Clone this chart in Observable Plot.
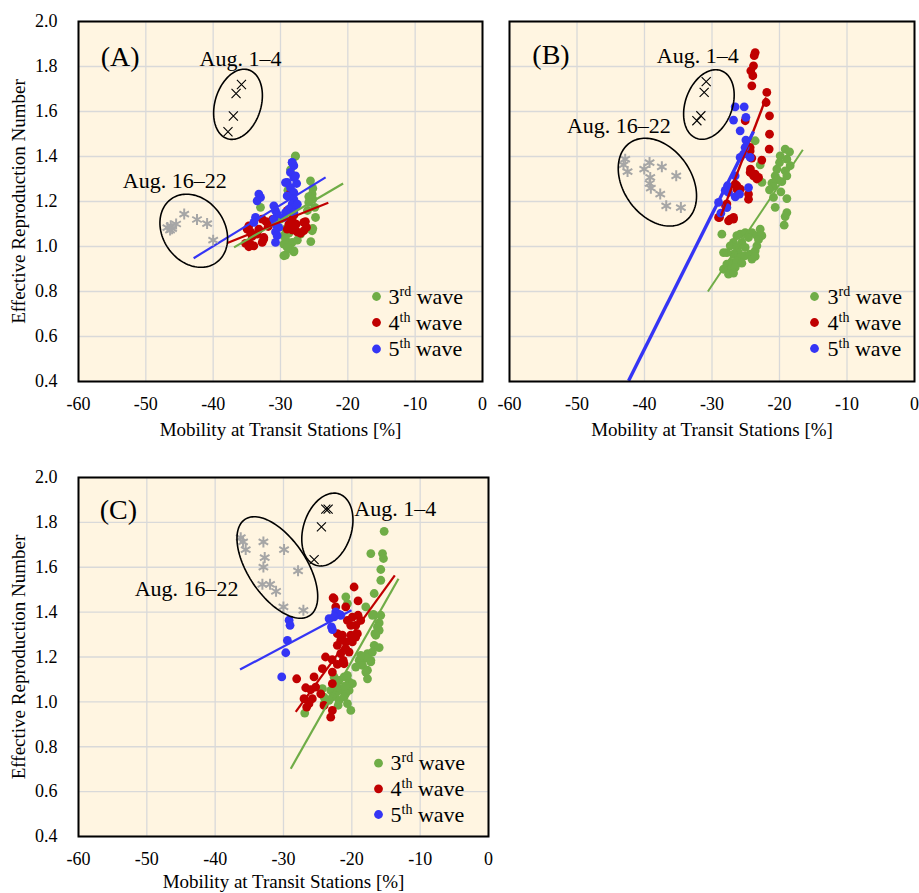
<!DOCTYPE html>
<html><head><meta charset="utf-8">
<script src="https://cdn.jsdelivr.net/npm/d3@7"></script>
<script src="https://cdn.jsdelivr.net/npm/@observablehq/plot@0.6"></script>
<style>
body{margin:0;background:#fff;width:919px;height:893px;position:relative;overflow:hidden}
.panel{position:absolute}
</style></head><body>
<div id="pA" class="panel" style="left:0;top:0;width:490px"></div>
<div id="pB" class="panel" style="left:490px;top:0;width:429px"></div>
<div id="pC" class="panel" style="left:0;top:460px;width:500px"></div>
<script>
// ---------- labels / ticks ----------
const xTicks = [-60, -50, -40, -30, -20, -10, 0];
const yTicks = [0.4, 0.6, 0.8, 1.0, 1.2, 1.4, 1.6, 1.8, 2.0];
const waveNames = ["3rd wave", "4th wave", "5th wave"];
const augLabels = ["Aug. 1–4", "Aug. 16–22"];
const panelNames = ["(A)", "(B)", "(C)"];
const xTitle = "Mobility at Transit Stations [%]";
const yTitle = "Effective Reproduction Number";

// ---------- Panel A ----------
const A_wave3 = [[-27.77,1.403],[-28.52,1.341],[-25.55,1.292],[-25.2,1.258],[-25.3,1.233],[-25.8,1.222],[-25.2,1.211],[-25.8,1.196],[-24.9,1.174],[-24.8,1.129],[-25.3,1.07],[-25.2,1.08],[-25.5,1.022],[-27.03,1.055],[-28.27,1.018],[-28.02,0.976],[-29.26,0.962],[-29.5,0.959],[-28.0,0.981],[-28.52,0.988],[-29.51,1.01],[-29.51,1.048],[-28.76,1.059],[-28.75,1.063],[-29.26,1.077],[-29.25,1.033],[-29.0,0.996],[-27.5,1.028],[-32.97,1.174],[-30.0,1.122],[-27.8,1.40],[-26.0,1.16],[-28.9,1.25]];
const A_wave4 = [[-34.7,1.092],[-34.46,1.065],[-34.21,1.045],[-34.95,1.077],[-32.72,1.122],[-32.13,1.11],[-31.83,1.089],[-33.22,1.077],[-33.47,1.055],[-32.48,1.04],[-32.72,1.018],[-33.96,1.003],[-34.46,1.01],[-34.7,0.999],[-35.2,1.014],[-32.48,1.033],[-28.27,1.122],[-27.67,1.099],[-28.27,1.074],[-27.53,1.065],[-26.54,1.107],[-26.14,1.085],[-27.03,1.059],[-28.76,1.099],[-29.01,1.077],[-28.52,1.24],[-29.01,1.159],[-26.3,1.111],[-26.54,1.07],[-31.2,1.12],[-28.0,1.14]];
const A_wave5 = [[-28.27,1.374],[-28.02,1.359],[-28.52,1.329],[-28.02,1.307],[-29.01,1.285],[-28.52,1.262],[-28.02,1.24],[-29.01,1.225],[-28.02,1.21],[-28.27,1.188],[-27.77,1.181],[-28.76,1.166],[-29.26,1.151],[-28.02,1.151],[-33.22,1.233],[-32.97,1.218],[-33.47,1.203],[-33.71,1.129],[-33.96,1.107],[-30.99,1.181],[-30.74,1.159],[-30.5,1.144],[-30.99,1.122],[-30.74,1.099],[-30.25,1.085],[-30.74,1.065],[-30.5,1.048],[-30.74,1.018],[-29.51,1.129],[-29.26,1.284],[-28.26,1.373],[-27.77,1.314],[-27.5,1.188],[-27.6,1.28]];
const A_aug1_4 = [[-37.8,1.51],[-37.0,1.58],[-36.6,1.68],[-35.8,1.72]];
const A_aug16_22 = [[-46.8,1.084],[-46.4,1.073],[-46.1,1.079],[-46.3,1.092],[-45.5,1.10],[-44.3,1.144],[-42.4,1.12],[-40.9,1.102],[-40.0,1.028]];
const A_fit3 = [-36.9, 0.996, -20.7, 1.28];
const A_fit4 = [-37.9, 1.016, -22.9, 1.194];
const A_fit5 = [-42.9, 0.948, -23.3, 1.307];
const A_groupCenters = [[-36.31, 1.632], [-42.88, 1.070]];
const A_labelAnchors = [[-35.94, 1.834], [-45.70, 1.292]];

// ---------- Panel B ----------
const B_wave3 = [[-28.54,1.055],[-26.32,1.048],[-25.82,1.055],[-25.08,1.062],[-24.09,1.062],[-24.59,1.04],[-23.35,1.048],[-22.86,1.077],[-22.61,1.048],[-26.81,1.018],[-27.3,1.003],[-26.32,0.996],[-25.58,1.018],[-25.08,0.996],[-26.07,0.973],[-26.81,0.966],[-27.8,0.973],[-28.29,0.973],[-25.82,0.951],[-25.08,0.959],[-24.34,0.966],[-23.6,0.981],[-23.35,1.003],[-23.11,1.03],[-27.8,0.922],[-27.06,0.929],[-26.32,0.936],[-25.58,0.926],[-27.3,0.899],[-26.56,0.907],[-28.29,0.899],[-27.55,0.877],[-26.81,0.882],[-24.09,0.944],[-23.6,0.956],
  [-19.16,1.433],[-18.51,1.421],[-19.9,1.403],[-18.91,1.388],[-20.0,1.373],[-18.42,1.359],[-20.39,1.344],[-19.16,1.336],[-18.91,1.314],[-20.64,1.314],[-20.29,1.296],[-21.13,1.282],[-20.89,1.267],[-21.48,1.252],[-19.65,1.288],[-19.8,1.243],[-20.89,1.218],[-18.91,1.213],[-20.64,1.174],[-18.91,1.151],[-19.16,1.133],[-19.31,1.095],
  [-23.6,1.47],[-22.86,1.363],[-22.6,1.285]];
const B_wave4 = [[-23.6,1.862],[-23.75,1.848],[-23.85,1.803],[-24.25,1.781],[-23.95,1.759],[-24.1,1.714],[-21.88,1.685],[-21.98,1.64],[-21.48,1.581],[-21.48,1.499],[-21.53,1.433],[-22.62,1.384],[-24.35,1.425],[-24.35,1.329],[-23.85,1.314],[-23.36,1.3],[-24.59,1.233],[-24.59,1.21],[-26.57,1.277],[-26.32,1.255],[-27.8,1.189],[-28.89,1.129],[-27.55,1.114],[-26.82,1.122],[-25.08,1.559],[-24.35,1.44],[-24.1,1.393],[-24.3,1.344],[-23.6,1.322],[-23.1,1.307],[-26.3,1.27],[-25.8,1.255],[-28.0,1.181],[-27.3,1.122],[-26.81,1.129],[-29.03,1.129]];
const B_wave5 = [[-26.57,1.621],[-25.23,1.621],[-26.81,1.562],[-24.98,1.574],[-25.83,1.514],[-24.98,1.473],[-24.34,1.396],[-25.83,1.396],[-25.33,1.411],[-26.57,1.314],[-27.7,1.27],[-28.04,1.25],[-26.56,1.221],[-25.92,1.233],[-24.59,1.262],[-29.03,1.196],[-27.8,1.173],[-28.69,1.148],[-27.55,1.24],[-25.1,1.44]];
const B_aug1_4 = [[-30.86,1.733],[-31.16,1.685],[-31.65,1.581],[-32.24,1.559]];
const B_aug16_22 = [[-42.86,1.388],[-43.11,1.363],[-42.51,1.333],[-40.04,1.344],[-39.25,1.373],[-37.43,1.354],[-39.15,1.307],[-39.25,1.28],[-39.06,1.259],[-37.67,1.233],[-36.78,1.181],[-35.3,1.314],[-34.61,1.173]];
const B_fit3 = [-30.61, 0.80, -16.54, 1.43];
const B_fit4 = [-28.69, 1.136, -21.97, 1.662];
const B_fit5 = [-42.36, 0.403, -23.85, 1.511];
const B_groupCenters = [[-30.46, 1.631], [-38.09, 1.286]];
const B_labelAnchors = [[-32.12, 1.848], [-43.79, 1.536]];

// ---------- Panel C ----------
const C_wave3 = [[-15.27,1.76],[-17.22,1.661],[-15.51,1.661],[-15.37,1.639],[-15.76,1.59],[-15.76,1.542],[-16.73,1.483],[-16.83,1.39],[-16.0,1.352],[-16.0,1.319],[-16.63,1.304],[-17.96,1.423],[-20.88,1.468],[-20.64,1.438],[-16.73,1.252],[-16.0,1.242],[-17.71,1.215],[-18.2,1.193],[-17.22,1.185],[-18.93,1.185],[-18.44,1.163],[-17.71,1.141],[-17.71,1.103],[-24.3,1.059],[-24.05,0.992],[-26.89,0.95],[-20.15,0.962],[-22.6,1.111],[-21.86,1.096],[-21.13,1.111],[-20.4,1.089],[-19.91,1.081],[-23.08,1.051],[-22.35,1.037],[-21.62,1.051],[-20.89,1.037],[-20.4,1.051],[-22.84,1.022],[-21.86,1.007],[-21.13,1.022],[-20.64,0.992],[-23.33,1.007],[-22.1,1.066],[-20.64,1.118],[-17.72,1.197],[-17.23,1.178],[-16.99,1.222],[-18.7,1.207],[-17.96,1.133],[-16.26,1.334],[-16.5,1.297],[-15.77,1.386],[-16.99,1.386],[-19.43,1.155],[-24.07,1.021],[-22.0,0.985],[-21.0,1.07]];
const C_wave4 = [[-19.67,1.512],[-22.6,1.46],[-19.09,1.45],[-22.36,1.423],[-20.89,1.423],[-19.92,1.378],[-19.09,1.386],[-20.65,1.363],[-18.7,1.363],[-20.16,1.341],[-19.43,1.341],[-22.12,1.304],[-21.38,1.297],[-20.16,1.297],[-19.43,1.289],[-21.63,1.274],[-20.89,1.267],[-19.92,1.267],[-19.19,1.304],[-22.12,1.252],[-20.89,1.237],[-20.4,1.222],[-21.63,1.215],[-23.85,1.2],[-22.87,1.188],[-21.26,1.185],[-21.14,1.17],[-22.12,1.167],[-22.85,1.133],[-24.31,1.148],[-25.53,1.111],[-28.07,1.103],[-26.75,1.063],[-26.02,1.054],[-25.29,1.066],[-27.0,1.014],[-25.78,1.014],[-26.27,0.992],[-26.61,0.977],[-24.07,0.984],[-22.85,1.081],[-22.85,0.962],[-23.09,0.932],[-24.55,1.036],[-22.74,1.464]];
const C_wave5 = [[-29.18,1.364],[-29.04,1.341],[-29.43,1.274],[-29.67,1.219],[-30.26,1.111],[-23.33,1.371],[-22.35,1.401],[-21.86,1.39],[-22.84,1.322],[-22.98,1.334],[-21.62,1.386],[-22.6,1.379]];
const C_aug1_4 = [[-23.81,1.859],[-23.47,1.859],[-24.45,1.78],[-25.52,1.634]];
const C_aug16_22 = [[-36.26,1.732],[-35.92,1.713],[-35.53,1.679],[-32.94,1.713],[-32.75,1.643],[-32.94,1.601],[-29.92,1.679],[-27.87,1.584],[-33.09,1.524],[-31.97,1.524],[-31.09,1.493],[-30.01,1.423],[-27.09,1.408]];
const C_fit3 = [-28.94, 0.702, -13.17, 1.549];
const C_fit4 = [-28.21, 0.955, -13.71, 1.564];
const C_fit5 = [-36.36, 1.144, -20.05, 1.408];
const C_groupCenters = [[-23.58, 1.768], [-30.90, 1.599]];
const C_labelAnchors = [[-13.65, 1.862], [-44.18, 1.505]];

// ---------- styling ----------
const COL3 = "#70AD47", COL4 = "#C00000", COL5 = "#3535F5";
const BG = "#FFF5E1", GRID = "#D9D9D9";
const FONT = '"Liberation Serif", "Times New Roman", serif';

function ellipsePts(c, a, b, rotDeg, kx, ky) {
  const out = [], phi = rotDeg * Math.PI / 180;
  for (let i = 0; i <= 120; i++) {
    const t = i / 120 * 2 * Math.PI;
    const u = b * Math.cos(t), v = a * Math.sin(t);
    const X = u * Math.cos(phi) - v * Math.sin(phi);
    const Y = u * Math.sin(phi) + v * Math.cos(phi);
    out.push([c[0] + X / kx, c[1] - Y / ky]);
  }
  return out;
}

function fixSup(svg) {
  const NS = "http://www.w3.org/2000/svg";
  svg.querySelectorAll("text").forEach(t => {
    const m = t.textContent.match(/^(\d)(rd|th) (wave)$/);
    if (!m) return;
    t.textContent = "";
    const a = document.createElementNS(NS, "tspan"); a.textContent = m[1];
    const b = document.createElementNS(NS, "tspan"); b.textContent = m[2];
    b.setAttribute("font-size", "14"); b.setAttribute("dy", "-8");
    const c = document.createElementNS(NS, "tspan"); c.textContent = "\u00a0" + m[3];
    c.setAttribute("dy", "8");
    t.append(a, b, c);
  });
}

function panel(cfg) {
  const {el, w3, w4, w5, aug1, aug16, fits, centers, labels, name, width, height, ml, mr, mt, mb, showY,
         ellipses, letterOff, legendDot, legendText, legendDy, fitWidths, titleDy} = cfg;
  const kx = (width - ml - mr) / 60, ky = (height - mt - mb) / 1.6;
  const marks = [
    Plot.frame({fill: BG}),
    Plot.gridX(xTicks, {stroke: GRID, strokeOpacity: 1, strokeWidth: 1.3}),
    Plot.gridY(yTicks, {stroke: GRID, strokeOpacity: 1, strokeWidth: 1.3}),
    Plot.axisX(xTicks, {tickSize: 0, tickPadding: 16, tickFormat: d => String(d), fontSize: 18, label: null}),
    showY ? Plot.axisY(yTicks, {tickSize: 0, tickPadding: 21, tickFormat: d => d.toFixed(1), fontSize: 18, label: null}) : null,
    Plot.dot(w3, {x: d => d[0], y: d => d[1], r: 4.4, fill: COL3}),
    Plot.dot(w4, {x: d => d[0], y: d => d[1], r: 4.4, fill: COL4}),
    Plot.dot(w5, {x: d => d[0], y: d => d[1], r: 4.4, fill: COL5}),
    Plot.link([fits[0]], {x1: d => d[0], y1: d => d[1], x2: d => d[2], y2: d => d[3], stroke: COL3, strokeWidth: fitWidths[0], clip: true}),
    Plot.link([fits[1]], {x1: d => d[0], y1: d => d[1], x2: d => d[2], y2: d => d[3], stroke: COL4, strokeWidth: fitWidths[1], clip: true}),
    Plot.link([fits[2]], {x1: d => d[0], y1: d => d[1], x2: d => d[2], y2: d => d[3], stroke: COL5, strokeWidth: fitWidths[2], clip: true}),
    Plot.dot(aug1, {x: d => d[0], y: d => d[1], symbol: "times", r: 4.2, stroke: "#000", strokeWidth: 1.1}),
    Plot.dot(aug16, {x: d => d[0], y: d => d[1], symbol: "asterisk", r: 5.2, stroke: "#A6A6A6", strokeWidth: 2}),
    ...ellipses.map((e, i) => Plot.line(ellipsePts(centers[i], e[0], e[1], e[2], kx, ky),
        {x: d => d[0], y: d => d[1], stroke: "#000", strokeWidth: 1.6})),
    Plot.text(augLabels.map((s, i) => ({s, p: labels[i]})), {x: d => d.p[0], y: d => d.p[1], text: d => d.s,
        fontSize: 22, fill: "#000", textAnchor: "middle", lineAnchor: "middle"}),
    Plot.text([name], {frameAnchor: "top-left", dx: letterOff[0], dy: letterOff[1], fontSize: 28, fill: "#000",
        textAnchor: "middle", lineAnchor: "middle"}),
    ...waveNames.map((w, i) => Plot.dot([w], {frameAnchor: "bottom-right", dx: legendDot, dy: legendDy[i], r: 4.4, fill: [COL3, COL4, COL5][i]})),
    ...waveNames.map((w, i) => Plot.text([w], {frameAnchor: "bottom-right", dx: legendText, dy: legendDy[i],
        textAnchor: "start", lineAnchor: "middle", fontSize: 22, fill: "#000"})),
    Plot.text([xTitle], {frameAnchor: "bottom", dy: titleDy, fontSize: 19, fill: "#000", textAnchor: "middle", lineAnchor: "middle"}),
    showY ? Plot.text([yTitle], {frameAnchor: "left", dx: -60, rotate: -90, fontSize: 19, fill: "#000",
        textAnchor: "middle", lineAnchor: "middle"}) : null,
    Plot.frame({stroke: "#000", strokeWidth: 2})
  ].filter(Boolean);
  const svg = Plot.plot({
    width, height, marginLeft: ml, marginRight: mr, marginTop: mt, marginBottom: mb,
    x: {domain: [-60, 0], label: null},
    y: {domain: [0.4, 2.0], label: null, ...(showY ? {} : {axis: null})},
    style: {fontFamily: FONT, fontSize: "18px", color: "#000", background: "transparent"},
    marks
  });
  fixSup(svg);
  document.getElementById(el).append(svg);
}

panel({el: "pA", w3: A_wave3, w4: A_wave4, w5: A_wave5, aug1: A_aug1_4, aug16: A_aug16_22,
  fits: [A_fit3, A_fit4, A_fit5], centers: A_groupCenters, labels: A_labelAnchors, name: panelNames[0],
  width: 490, height: 440, ml: 78, mr: 8, mt: 21, mb: 59, showY: true,
  ellipses: [[36, 23, 17], [39, 31, -35]], letterOff: [41.7, 36], legendDot: -106, legendText: -94,
  legendDy: [-85, -59, -32.5], fitWidths: [2.2, 2.2, 2.2], titleDy: 48});

panel({el: "pB", w3: B_wave3, w4: B_wave4, w5: B_wave5, aug1: B_aug1_4, aug16: B_aug16_22,
  fits: [B_fit3, B_fit4, B_fit5], centers: B_groupCenters, labels: B_labelAnchors, name: panelNames[1],
  width: 429, height: 440, ml: 19, mr: 5, mt: 21, mb: 59, showY: false,
  ellipses: [[36, 23.5, 20], [48, 34, -35]], letterOff: [41.5, 34], legendDot: -100, legendText: -87,
  legendDy: [-85, -59, -33], fitWidths: [2, 2.4, 3.4], titleDy: 48});

panel({el: "pC", w3: C_wave3, w4: C_wave4, w5: C_wave5, aug1: C_aug1_4, aug16: C_aug16_22,
  fits: [C_fit3, C_fit4, C_fit5], centers: C_groupCenters, labels: C_labelAnchors, name: panelNames[2],
  width: 500, height: 433, ml: 78, mr: 12, mt: 17, mb: 57, showY: true,
  ellipses: [[37.5, 24, 18], [58, 29, -34]], letterOff: [39.8, 33], legendDot: -110, legendText: -98,
  legendDy: [-73.3, -47.7, -22], fitWidths: [2.2, 2.2, 2.2], titleDy: 45});
</script>
</body></html>
